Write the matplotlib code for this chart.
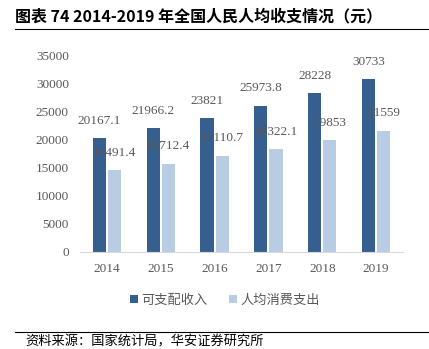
import matplotlib.pyplot as plt
import numpy as np
from matplotlib.lines import Line2D

plt.rcParams['font.family'] = ['Noto Sans CJK SC', 'DejaVu Sans']

years = ["2014", "2015", "2016", "2017", "2018", "2019"]
income = [20167.1, 21966.2, 23821, 25973.8, 28228, 30733]
spending = [14491.4, 15712.4, 17110.7, 18322.1, 19853, 21559]
income_labels = ["20167.1", "21966.2", "23821", "25973.8", "28228", "30733"]
spending_labels = ["14491.4", "15712.4", "17110.7", "18322.1", "19853", "21559"]

dark = "#365E8F"
light = "#B8CCE4"
grey = "#595959"
serif = "Liberation Serif"

fig = plt.figure(figsize=(4.29, 3.49), dpi=100)
ax = fig.add_axes([80 / 429, 1 - 252 / 349, 323 / 429, 197 / 349])

x = np.arange(len(years))
w = 0.245
off = 0.142
ax.bar(x - off, income, w, color=dark, label="可支配收入")
ax.bar(x + off, spending, w, color=light, label="人均消费支出")

# value labels sit a fixed distance above each bar
for xi, v, s in zip(x, income, income_labels):
    ax.annotate(s, (xi - off, v), xytext=(0, 12.5), textcoords="offset points",
                ha="center", va="center", fontsize=9.5, color=grey, family=serif)
for xi, v, s in zip(x, spending, spending_labels):
    ax.annotate(s, (xi + off, v), xytext=(0, 12.5), textcoords="offset points",
                ha="center", va="center", fontsize=9.5, color=grey, family=serif)

ax.set_xlim(-0.5, 5.5)
ax.set_ylim(0, 35000)
ax.set_yticks(range(0, 35001, 5000))
ax.set_xticks(x)
ax.set_xticklabels(years)
for lab in ax.get_xticklabels() + ax.get_yticklabels():
    lab.set_family(serif)
    lab.set_fontsize(9.5)
    lab.set_color(grey)
ax.tick_params(length=0, pad=8)
for side in ["top", "right", "left"]:
    ax.spines[side].set_visible(False)
ax.spines["bottom"].set_color("#D9D9D9")

ax.legend(loc="center", bbox_to_anchor=(225 / 429, 1 - 300 / 349),
          bbox_transform=fig.transFigure, ncol=2, frameon=False,
          fontsize=9.5, labelcolor=grey, handlelength=0.6, handleheight=0.6,
          handletextpad=0.3, columnspacing=1.6)

fig.text(15 / 429, 1 - 16 / 349, "图表 74 2014-2019 年全国人民人均收支情况（元）",
         fontsize=11.5, fontweight="bold", va="center", ha="left")
fig.add_artist(Line2D([15 / 429, 1], [1 - 29 / 349] * 2, color="black", lw=0.8))
fig.add_artist(Line2D([15 / 429, 1], [1 - 332 / 349] * 2, color="black", lw=0.8))
fig.text(25 / 429, 1 - 342 / 349, "资料来源：国家统计局，华安证券研究所",
         fontsize=9.5, va="center", ha="left")

fig.savefig("out.png", dpi=100)
